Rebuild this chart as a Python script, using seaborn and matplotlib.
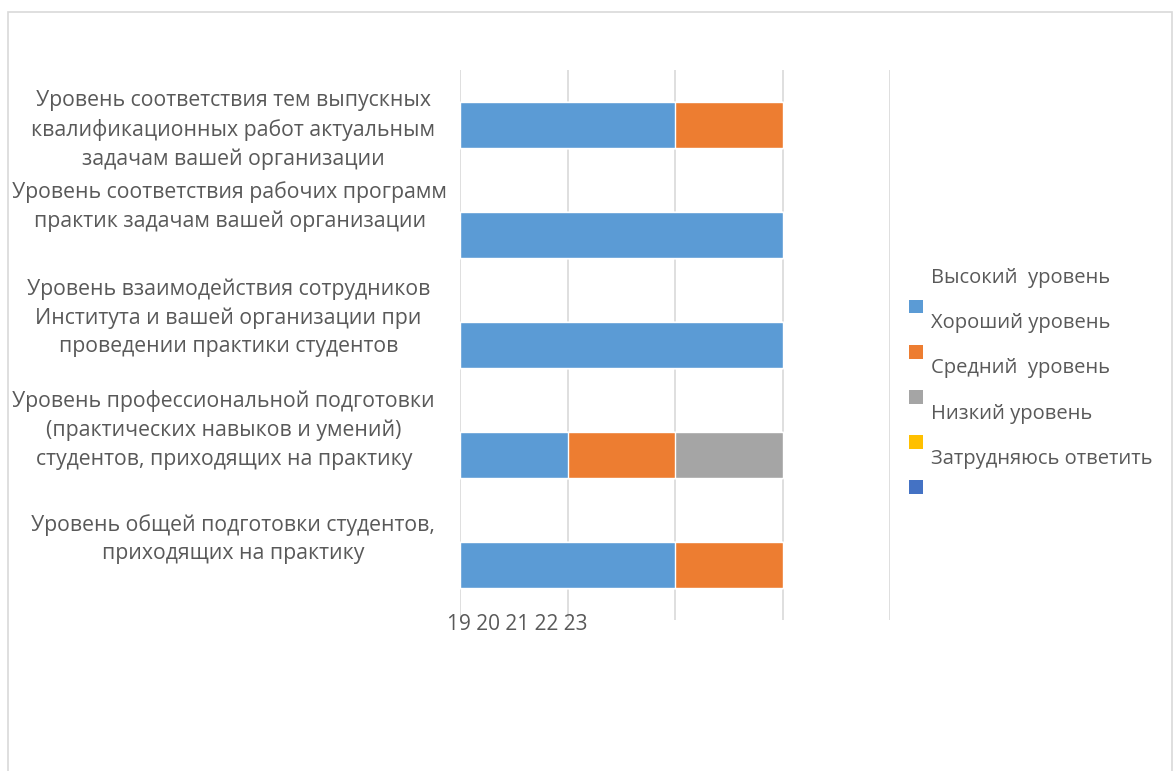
import matplotlib
matplotlib.use("Agg")
import matplotlib.pyplot as plt
import seaborn as sns
import pandas as pd
from matplotlib.patches import Rectangle
from matplotlib.legend_handler import HandlerPatch

# categories, top to bottom as in the chart
categories = [
    "Уровень соответствия тем выпускных\nквалификационных работ актуальным\nзадачам вашей организации",
    "Уровень соответствия рабочих программ\nпрактик задачам вашей организации",
    "Уровень взаимодействия сотрудников\nИнститута и вашей организации при\nпроведении практики студентов",
    "Уровень профессиональной подготовки\n(практических навыков и умений)\nстудентов, приходящих на практику",
    "Уровень общей подготовки студентов,\nприходящих на практику",
]
series = ["Высокий  уровень", "Хороший уровень", "Средний  уровень",
          "Низкий уровень", "Затрудняюсь ответить"]
high = [2, 3, 3, 1, 2]
good = [1, 0, 0, 1, 1]
medium = [0, 0, 0, 1, 0]
low = [0, 0, 0, 0, 0]
hard = [0, 0, 0, 0, 0]
axis_labels = "19 20 21 22 23"

colors = ["#5B9BD5", "#ED7D31", "#A5A5A5", "#FFC000", "#4472C4"]
text_col = "#595959"
grid_col = "#D9D9D9"

sns.set_style("white")
plt.rcParams["font.family"] = ["Open Sans", "DejaVu Sans"]

df = pd.DataFrame(dict(zip(series, [high, good, medium, low, hard])))
cum = df.cumsum(axis=1)

fig = plt.figure(figsize=(11.74, 7.71), dpi=100)
ax = fig.add_axes([460 / 1174, 1 - 620 / 771, 430 / 1174, 550 / 771])

# stacked bars: draw cumulative totals from the last series to the first
for s, c in reversed(list(zip(series, colors))):
    sns.barplot(x=cum[s].values, y=categories, color=c, orient="h", width=0.41,
                saturation=1, edgecolor="white", linewidth=1, ax=ax)

ax.set_xlim(0, 4)
ax.set_xticks([0, 1, 2, 3, 4])
ax.set_xticklabels([])
ax.set_yticklabels([])
ax.tick_params(length=0)
ax.set_xlabel("")
ax.set_ylabel("")
ax.grid(axis="x", color=grid_col, linewidth=1.2)
ax.grid(axis="y", visible=False)
ax.set_axisbelow(True)
for sp in ax.spines.values():
    sp.set_visible(False)

# category labels (Excel put them a bit above the bars)
offsets = [(-25, -5), (-13, 28), (-30, 27), (-25, 25), (-25, 26)]
for i, (lab, (dx, dy)) in enumerate(zip(categories, offsets)):
    ax.annotate(lab, xy=(0, i), xycoords=("axes fraction", "data"),
                xytext=(dx, dy), textcoords="offset pixels",
                ha="right", va="center", ma="center", fontsize=15.3,
                color=text_col, linespacing=1.46)

ax.annotate(axis_labels, xy=(0, 0), xycoords=("data", "axes fraction"),
            xytext=(-13, -5), textcoords="offset pixels",
            ha="left", va="center", fontsize=15, color=text_col)


class ShiftedSquare(HandlerPatch):
    def create_artists(self, legend, orig_handle, xdescent, ydescent,
                       width, height, fontsize, trans):
        size = 10
        y = -ydescent + height / 2 - size / 2 - 22
        p = Rectangle((-xdescent, y), size, size,
                      facecolor=orig_handle.get_facecolor(),
                      edgecolor="none", transform=trans)
        return [p]


handles = [Rectangle((0, 0), 1, 1, facecolor=c) for c in colors]
fig.legend(handles, series, handler_map={Rectangle: ShiftedSquare()},
           loc="upper left", bbox_to_anchor=(909 / 1174, 1 - 268 / 771),
           frameon=False, borderpad=0, borderaxespad=0,
           handlelength=0.7, handletextpad=0.4, labelspacing=1.25,
           fontsize=14.5, labelcolor=text_col)

# chart area border
fig.add_artist(Rectangle((8 / 1174, -0.05), 1164 / 1174, 1.05 - 12 / 771,
                         transform=fig.transFigure, fill=False,
                         edgecolor=grid_col, linewidth=1.2))

fig.savefig("out.png", dpi=100, facecolor="white")
